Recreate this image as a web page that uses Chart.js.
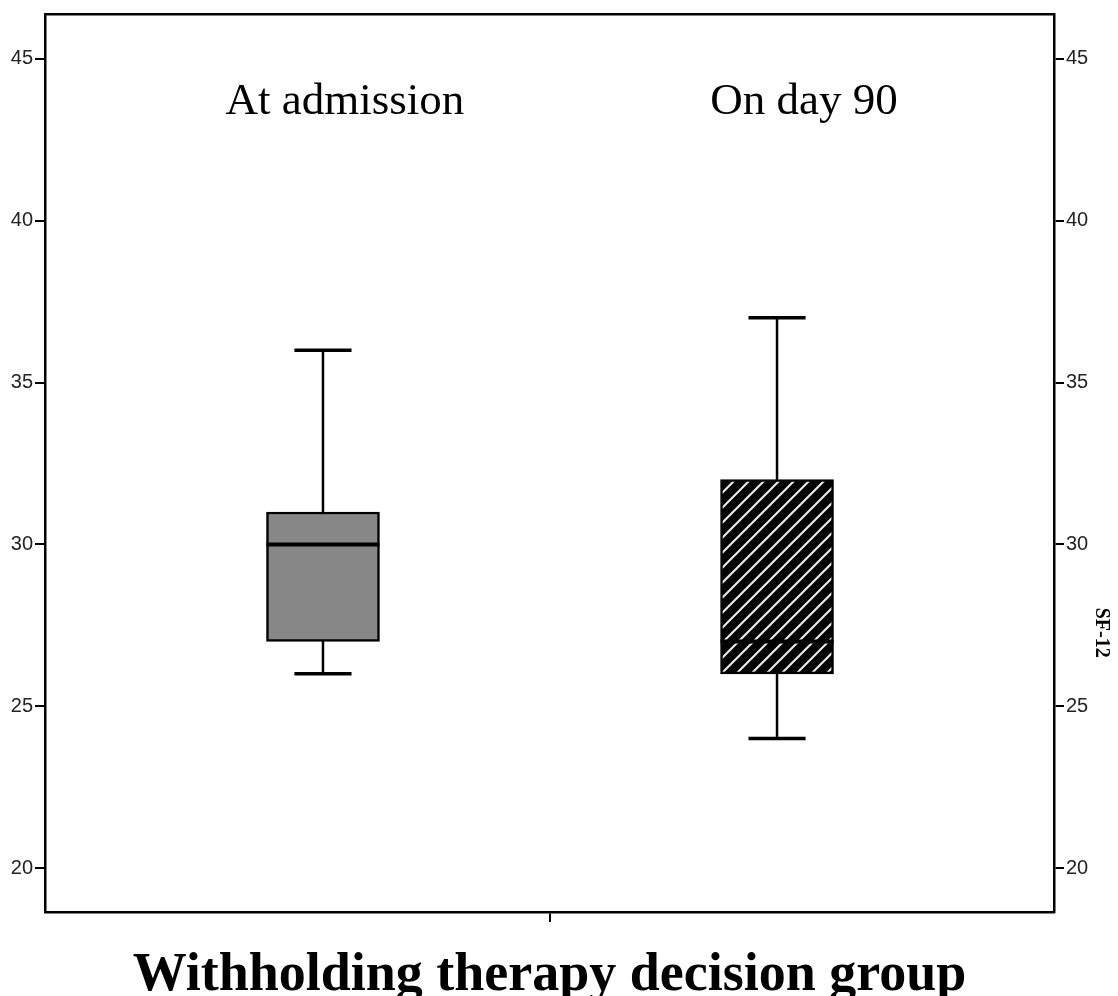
<!DOCTYPE html>
<html>
<head>
<meta charset="utf-8">
<script src="https://cdn.jsdelivr.net/npm/chart.js@4.4.1/dist/chart.umd.min.js"></script>
<style>
  body { margin: 0; background: #fff; }
  canvas { display: block; }
</style>
</head>
<body>
<canvas id="chart" width="1118" height="996"></canvas>
<script>
// SF-12 box plot for the withholding therapy decision group
const groups = ['At admission', 'On day 90'];
const whiskerLow = [26, 24];
const q1 = [27, 26];
const median = [30, 27];
const q3 = [31, 32];
const whiskerHigh = [36, 37];
const yTicks = [20, 25, 30, 35, 40, 45];
const xTitle = 'Withholding therapy decision group';
const yTitle = 'SF-12';

// placement on the hidden 0..1 x scale
const groupX = [0.2755, 0.7255];
const labelX = [0.2973, 0.7522];
const labelY = 43.3;
const boxHalf = 0.056;
const capHalf = 0.0283;

function hatch() {
  const s = 15;
  const c = document.createElement('canvas');
  c.width = s; c.height = s;
  const g = c.getContext('2d');
  g.fillStyle = '#000';
  g.fillRect(0, 0, s, s);
  g.strokeStyle = '#e8e8e8';
  g.lineWidth = 2.2;
  g.beginPath();
  g.moveTo(-2, s + 2); g.lineTo(s + 2, -2);
  g.moveTo(-2, 2); g.lineTo(2, -2);
  g.moveTo(s - 2, s + 2); g.lineTo(s + 2, s - 2);
  g.stroke();
  return g.createPattern(c, 'repeat');
}

function seg(x1, y1, x2, y2, width, order) {
  return {
    type: 'line',
    data: [{ x: x1, y: y1 }, { x: x2, y: y2 }],
    borderColor: '#000',
    borderWidth: width,
    pointRadius: 0,
    fill: false,
    order: order
  };
}

const datasets = [];
groups.forEach((g, i) => {
  const gx = groupX[i];
  datasets.push(seg(gx - boxHalf, median[i], gx + boxHalf, median[i], 4, 0));
  datasets.push(seg(gx, whiskerLow[i], gx, whiskerHigh[i], 2.5, 2));
  datasets.push(seg(gx - capHalf, whiskerHigh[i], gx + capHalf, whiskerHigh[i], 3.5, 2));
  datasets.push(seg(gx - capHalf, whiskerLow[i], gx + capHalf, whiskerLow[i], 3.5, 2));
});
datasets.push({
  type: 'bar',
  data: groups.map((g, i) => ({ x: groupX[i], y: [q1[i], q3[i]] })),
  backgroundColor: ['#878787', hatch()],
  borderColor: '#000',
  borderWidth: 2.5,
  borderSkipped: false,
  barThickness: 113,
  order: 1
});

function yAxis(position, width) {
  return {
    type: 'linear',
    position: position,
    min: 18.64,
    max: 46.39,
    afterBuildTicks: s => { s.ticks = yTicks.map(v => ({ value: v })); },
    afterFit: s => { s.width = width; },
    ticks: { color: '#222', padding: 2, font: { family: 'Liberation Sans', size: 20 } },
    grid: { drawOnChartArea: false, tickLength: 10, color: '#000', lineWidth: 2 },
    border: { display: true, color: '#000', width: 2.5 }
  };
}

const textPlugin = {
  id: 'texts',
  afterDraw(chart) {
    const { ctx } = chart;
    const x = chart.scales.x, y = chart.scales.y;
    ctx.save();
    ctx.fillStyle = '#000';
    ctx.textAlign = 'center';
    ctx.textBaseline = 'alphabetic';
    ctx.font = '45px "Liberation Serif"';
    groups.forEach((g, i) => {
      ctx.fillText(g, x.getPixelForValue(labelX[i]), y.getPixelForValue(labelY));
    });
    ctx.font = 'bold 54px "Liberation Serif"';
    ctx.fillText(xTitle, (x.left + x.right) / 2, 990);
    ctx.translate(1101, y.getPixelForValue(27.27));
    ctx.rotate(Math.PI / 2);
    ctx.textBaseline = 'middle';
    ctx.font = 'bold 20px "Liberation Serif"';
    ctx.fillText(yTitle, 0, 0);
    ctx.restore();
  }
};

new Chart(document.getElementById('chart'), {
  type: 'bar',
  data: { datasets: datasets },
  options: {
    responsive: false,
    animation: false,
    devicePixelRatio: 1,
    layout: { padding: { top: 12, left: 0, right: 0, bottom: 0 } },
    plugins: { legend: { display: false }, tooltip: { enabled: false } },
    scales: {
      x: {
        type: 'linear',
        position: 'bottom',
        offset: false,
        min: 0,
        max: 1,
        afterBuildTicks: s => { s.ticks = [{ value: 0.5 }]; },
        afterFit: s => { s.height = 84; },
        ticks: { callback: () => '' },
        grid: { offset: false, drawOnChartArea: false, tickLength: 10, color: '#000', lineWidth: 2 },
        border: { display: true, color: '#000', width: 2.5 }
      },
      xTop: {
        type: 'linear',
        position: 'top',
        offset: false,
        min: 0,
        max: 1,
        afterFit: s => { s.height = 0; },
        ticks: { display: false },
        grid: { offset: false, drawOnChartArea: false, drawTicks: false },
        border: { display: true, color: '#000', width: 2.5 }
      },
      y: yAxis('left', 45),
      y2: yAxis('right', 64)
    }
  },
  plugins: [textPlugin]
});
</script>
</body>
</html>
